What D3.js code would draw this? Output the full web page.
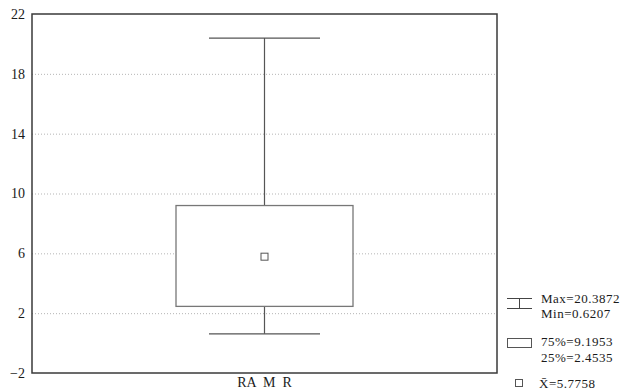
<!DOCTYPE html>
<html>
<meta charset="UTF-8">
<head>
<style>
  body { margin: 0; background: #fff; }
  text { font-family: "Liberation Serif", "DejaVu Serif", serif; fill: #1a1a1a; }
</style>
</head>
<script src="https://d3js.org/d3.v7.min.js"></script>
<body>
<div id="chart"></div>
<script>
// data
var categories = ["RA  M  R"];
var maxVals = [20.3872];
var minVals = [0.6207];
var q75Vals = [9.1953];
var q25Vals = [2.4535];
var meanVals = [5.7758];
var yTicks = [-2, 2, 6, 10, 14, 18, 22];

var width = 626, height = 392;
var margin = { top: 14, left: 32, right: 129, bottom: 19 };
var chartWidth = width - margin.left - margin.right;
var chartHeight = height - margin.top - margin.bottom;

var svg = d3.select("#chart").append("svg")
  .attr("width", width)
  .attr("height", height);

var g = svg.append("g")
  .attr("transform", "translate(" + margin.left + "," + margin.top + ")");

var xScale = d3.scaleBand()
  .domain(categories)
  .range([0, chartWidth]);

var yScale = d3.scaleLinear()
  .domain([-2, 22])
  .range([chartHeight, 0]);

// dotted gridlines
g.append("g")
  .selectAll("line")
  .data(yTicks.filter(d => d > -2 && d < 22))
  .enter().append("line")
  .attr("x1", 0).attr("x2", chartWidth)
  .attr("y1", d => yScale(d) + 0.5).attr("y2", d => yScale(d) + 0.5)
  .attr("stroke", "#b5b5b5")
  .attr("stroke-width", 1)
  .attr("stroke-dasharray", "1,2");

// y axis labels
var yAxis = d3.axisLeft(yScale)
  .tickValues(yTicks)
  .tickSize(0)
  .tickPadding(7)
  .tickFormat(d => d < 0 ? "\u2212" + Math.abs(d) : d);

var yAxisG = g.append("g").call(yAxis);
yAxisG.select(".domain").remove();
yAxisG.selectAll("text").attr("font-size", 14).style("font-family", '"Liberation Serif", serif').attr("fill", "#1a1a1a");

// x axis label
var xAxis = d3.axisBottom(xScale).tickSize(0).tickPadding(4);
var xAxisG = g.append("g")
  .attr("transform", "translate(0," + chartHeight + ")")
  .call(xAxis);
xAxisG.select(".domain").remove();
xAxisG.selectAll("text").attr("font-size", 14).style("font-family", '"Liberation Serif", serif').attr("fill", "#1a1a1a")
  .style("white-space", "pre");

// box plot
var boxW = 177, capW = 111;
categories.forEach((c, i) => {
  var cx = xScale(c) + xScale.bandwidth() / 2;
  var bg = g.append("g");

  // whisker line
  bg.append("line")
    .attr("x1", cx).attr("x2", cx)
    .attr("y1", yScale(maxVals[i])).attr("y2", yScale(minVals[i]))
    .attr("stroke", "#555").attr("stroke-width", 1.2);

  // caps
  [maxVals[i], minVals[i]].forEach(v => {
    bg.append("line")
      .attr("x1", cx - capW / 2).attr("x2", cx + capW / 2)
      .attr("y1", yScale(v)).attr("y2", yScale(v))
      .attr("stroke", "#555").attr("stroke-width", 1.2);
  });

  // box
  bg.append("rect")
    .attr("x", cx - boxW / 2)
    .attr("y", yScale(q75Vals[i]))
    .attr("width", boxW)
    .attr("height", yScale(q25Vals[i]) - yScale(q75Vals[i]))
    .attr("fill", "white")
    .attr("stroke", "#777").attr("stroke-width", 1.3);

  // mean marker
  bg.append("rect")
    .attr("x", cx - 3.5)
    .attr("y", yScale(meanVals[i]) - 3.5)
    .attr("width", 7).attr("height", 7)
    .attr("fill", "white")
    .attr("stroke", "#555").attr("stroke-width", 1);
});

// frame
g.append("rect")
  .attr("x", 0).attr("y", 0)
  .attr("width", chartWidth).attr("height", chartHeight)
  .attr("fill", "none")
  .attr("stroke", "#3a3a3a")
  .attr("stroke-width", 1.5);

// legend
var lg = svg.append("g").style("letter-spacing", "0.5px");
var lx = 507, tx = 541, fs = 13;

// whisker icon
lg.append("line").attr("x1", lx).attr("x2", lx + 25).attr("y1", 298.5).attr("y2", 298.5).attr("stroke", "#444");
lg.append("line").attr("x1", lx).attr("x2", lx + 25).attr("y1", 308.5).attr("y2", 308.5).attr("stroke", "#444");
lg.append("line").attr("x1", lx + 12.5).attr("x2", lx + 12.5).attr("y1", 298.5).attr("y2", 308.5).attr("stroke", "#444");
lg.append("text").attr("x", tx).attr("y", 303).attr("font-size", fs).text("Max=" + maxVals[0]);
lg.append("text").attr("x", tx).attr("y", 318).attr("font-size", fs).text("Min=" + minVals[0]);

// box icon
lg.append("rect").attr("x", lx + 0.5).attr("y", 338.5).attr("width", 24).attr("height", 9)
  .attr("fill", "white").attr("stroke", "#555");
lg.append("text").attr("x", tx).attr("y", 346).attr("font-size", fs).text("75%=" + q75Vals[0]);
lg.append("text").attr("x", tx).attr("y", 362).attr("font-size", fs).text("25%=" + q25Vals[0]);

// mean icon
lg.append("rect").attr("x", 515.5).attr("y", 379.5).attr("width", 7).attr("height", 7)
  .attr("fill", "white").attr("stroke", "#555");
lg.append("text").attr("x", tx - 2).attr("y", 388).attr("font-size", fs).text("X\u0304=" + meanVals[0]);
</script>
</body>
</html>
